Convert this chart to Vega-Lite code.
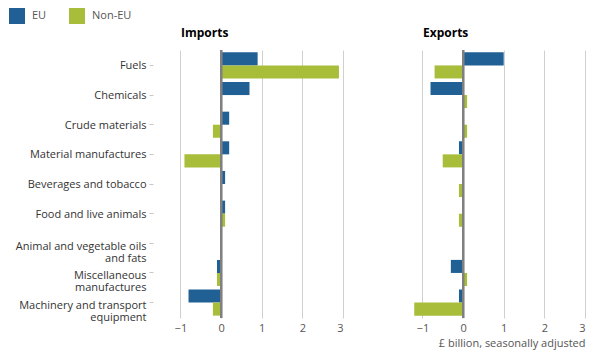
{
  "$schema": "https://vega.github.io/schema/vega-lite/v6.json",
  "padding": {"left": 3, "top": 8, "right": 10, "bottom": 5},
  "config": {
    "font": "Open Sans",
    "view": {"stroke": null},
    "concat": {"spacing": 55}
  },
  "data": {"values": [
    {"cat": "Fuels", "flow": "Imports", "region": "EU", "value": 0.9},
    {"cat": "Fuels", "flow": "Imports", "region": "Non-EU", "value": 2.9},
    {"cat": "Chemicals", "flow": "Imports", "region": "EU", "value": 0.7},
    {"cat": "Chemicals", "flow": "Imports", "region": "Non-EU", "value": 0},
    {"cat": "Crude materials", "flow": "Imports", "region": "EU", "value": 0.2},
    {"cat": "Crude materials", "flow": "Imports", "region": "Non-EU", "value": -0.2},
    {"cat": "Material manufactures", "flow": "Imports", "region": "EU", "value": 0.2},
    {"cat": "Material manufactures", "flow": "Imports", "region": "Non-EU", "value": -0.9},
    {"cat": "Beverages and tobacco", "flow": "Imports", "region": "EU", "value": 0.1},
    {"cat": "Beverages and tobacco", "flow": "Imports", "region": "Non-EU", "value": 0},
    {"cat": "Food and live animals", "flow": "Imports", "region": "EU", "value": 0.1},
    {"cat": "Food and live animals", "flow": "Imports", "region": "Non-EU", "value": 0.1},
    {"cat": "Animal and vegetable oils and fats", "flow": "Imports", "region": "EU", "value": 0},
    {"cat": "Animal and vegetable oils and fats", "flow": "Imports", "region": "Non-EU", "value": 0},
    {"cat": "Miscellaneous manufactures", "flow": "Imports", "region": "EU", "value": -0.1},
    {"cat": "Miscellaneous manufactures", "flow": "Imports", "region": "Non-EU", "value": -0.1},
    {"cat": "Machinery and transport equipment", "flow": "Imports", "region": "EU", "value": -0.8},
    {"cat": "Machinery and transport equipment", "flow": "Imports", "region": "Non-EU", "value": -0.2},
    {"cat": "Fuels", "flow": "Exports", "region": "EU", "value": 1.0},
    {"cat": "Fuels", "flow": "Exports", "region": "Non-EU", "value": -0.7},
    {"cat": "Chemicals", "flow": "Exports", "region": "EU", "value": -0.8},
    {"cat": "Chemicals", "flow": "Exports", "region": "Non-EU", "value": 0.1},
    {"cat": "Crude materials", "flow": "Exports", "region": "EU", "value": 0},
    {"cat": "Crude materials", "flow": "Exports", "region": "Non-EU", "value": 0.1},
    {"cat": "Material manufactures", "flow": "Exports", "region": "EU", "value": -0.1},
    {"cat": "Material manufactures", "flow": "Exports", "region": "Non-EU", "value": -0.5},
    {"cat": "Beverages and tobacco", "flow": "Exports", "region": "EU", "value": 0},
    {"cat": "Beverages and tobacco", "flow": "Exports", "region": "Non-EU", "value": -0.1},
    {"cat": "Food and live animals", "flow": "Exports", "region": "EU", "value": 0},
    {"cat": "Food and live animals", "flow": "Exports", "region": "Non-EU", "value": -0.1},
    {"cat": "Animal and vegetable oils and fats", "flow": "Exports", "region": "EU", "value": 0},
    {"cat": "Animal and vegetable oils and fats", "flow": "Exports", "region": "Non-EU", "value": 0},
    {"cat": "Miscellaneous manufactures", "flow": "Exports", "region": "EU", "value": -0.3},
    {"cat": "Miscellaneous manufactures", "flow": "Exports", "region": "Non-EU", "value": 0.1},
    {"cat": "Machinery and transport equipment", "flow": "Exports", "region": "EU", "value": -0.1},
    {"cat": "Machinery and transport equipment", "flow": "Exports", "region": "Non-EU", "value": -1.2}
  ]},
  "hconcat": [
    {
      "width": 187,
      "height": 268,
      "title": {"text": "Imports", "anchor": "start", "frame": "group", "dx": 25, "fontSize": 12, "fontWeight": "bold", "color": "#000000", "offset": 9},
      "transform": [{"filter": "datum.flow == 'Imports'"}],
      "layer": [
        {
          "mark": {"type": "bar"},
          "encoding": {
            "y": {
              "field": "cat", "type": "nominal",
              "sort": ["Fuels", "Chemicals", "Crude materials", "Material manufactures", "Beverages and tobacco", "Food and live animals", "Animal and vegetable oils and fats", "Miscellaneous manufactures", "Machinery and transport equipment"],
              "scale": {"paddingInner": 0.12, "paddingOuter": 0.08},
              "axis": {
                "title": null, "domain": false, "offset": 3, "tickSize": 4, "tickColor": "#c8c8c8",
                "labelPadding": 3, "labelFontSize": 11, "labelColor": "#333333", "labelLimit": 300, "labelLineHeight": 12,
                "minExtent": 150, "maxExtent": 150,
                "labelOffset": {"condition": {"test": "datum.value == 'Animal and vegetable oils and fats' || datum.value == 'Miscellaneous manufactures' || datum.value == 'Machinery and transport equipment'", "value": 3.5}, "value": 1},
                "labelExpr": "datum.label == 'Animal and vegetable oils and fats' ? ['Animal and vegetable oils', 'and fats'] : datum.label == 'Miscellaneous manufactures' ? ['Miscellaneous', 'manufactures'] : datum.label == 'Machinery and transport equipment' ? ['Machinery and transport', 'equipment'] : datum.label"
              }
            },
            "yOffset": {"field": "region", "sort": ["EU", "Non-EU"]},
            "x": {
              "field": "value", "type": "quantitative",
              "scale": {"domain": [-1.6, 3], "nice": false, "zero": false},
              "axis": {"title": null, "domain": false, "ticks": false, "values": [-1, 0, 1, 2, 3], "gridColor": "#d0d0d0", "labelFontSize": 11, "labelColor": "#555555", "labelPadding": 4}
            },
            "color": {
              "field": "region", "type": "nominal",
              "scale": {"domain": ["EU", "Non-EU"], "range": ["#206095", "#A8BD3A"]},
              "legend": {"orient": "none", "legendX": -147, "legendY": -42, "direction": "horizontal", "title": null, "symbolType": "square", "symbolSize": 256, "symbolStrokeWidth": 0, "labelFontSize": 11, "labelColor": "#555555", "columnPadding": 22, "labelOffset": 7}
            }
          }
        },
        {
          "mark": {"type": "rule", "color": "#808080", "strokeWidth": 2},
          "encoding": {"x": {"datum": 0}}
        }
      ]
    },
    {
      "width": 187,
      "height": 268,
      "title": {"text": "Exports", "anchor": "start", "frame": "group", "dx": 25, "fontSize": 12, "fontWeight": "bold", "color": "#000000", "offset": 9},
      "transform": [{"filter": "datum.flow == 'Exports'"}],
      "layer": [
        {
          "mark": {"type": "bar"},
          "encoding": {
            "y": {
              "field": "cat", "type": "nominal",
              "sort": ["Fuels", "Chemicals", "Crude materials", "Material manufactures", "Beverages and tobacco", "Food and live animals", "Animal and vegetable oils and fats", "Miscellaneous manufactures", "Machinery and transport equipment"],
              "scale": {"paddingInner": 0.12, "paddingOuter": 0.08},
              "axis": null
            },
            "yOffset": {"field": "region", "sort": ["EU", "Non-EU"]},
            "x": {
              "field": "value", "type": "quantitative",
              "scale": {"domain": [-1.6, 3], "nice": false, "zero": false},
              "axis": {"title": "£ billion, seasonally adjusted", "titleAnchor": "end", "titleFontWeight": "normal", "titleFontSize": 11, "titleColor": "#555555", "titlePadding": 4, "domain": false, "ticks": false, "values": [-1, 0, 1, 2, 3], "gridColor": "#d0d0d0", "labelFontSize": 11, "labelColor": "#555555", "labelPadding": 4}
            },
            "color": {
              "field": "region", "type": "nominal",
              "scale": {"domain": ["EU", "Non-EU"], "range": ["#206095", "#A8BD3A"]},
              "legend": null
            }
          }
        },
        {
          "mark": {"type": "rule", "color": "#808080", "strokeWidth": 2},
          "encoding": {"x": {"datum": 0}}
        }
      ]
    }
  ]
}
